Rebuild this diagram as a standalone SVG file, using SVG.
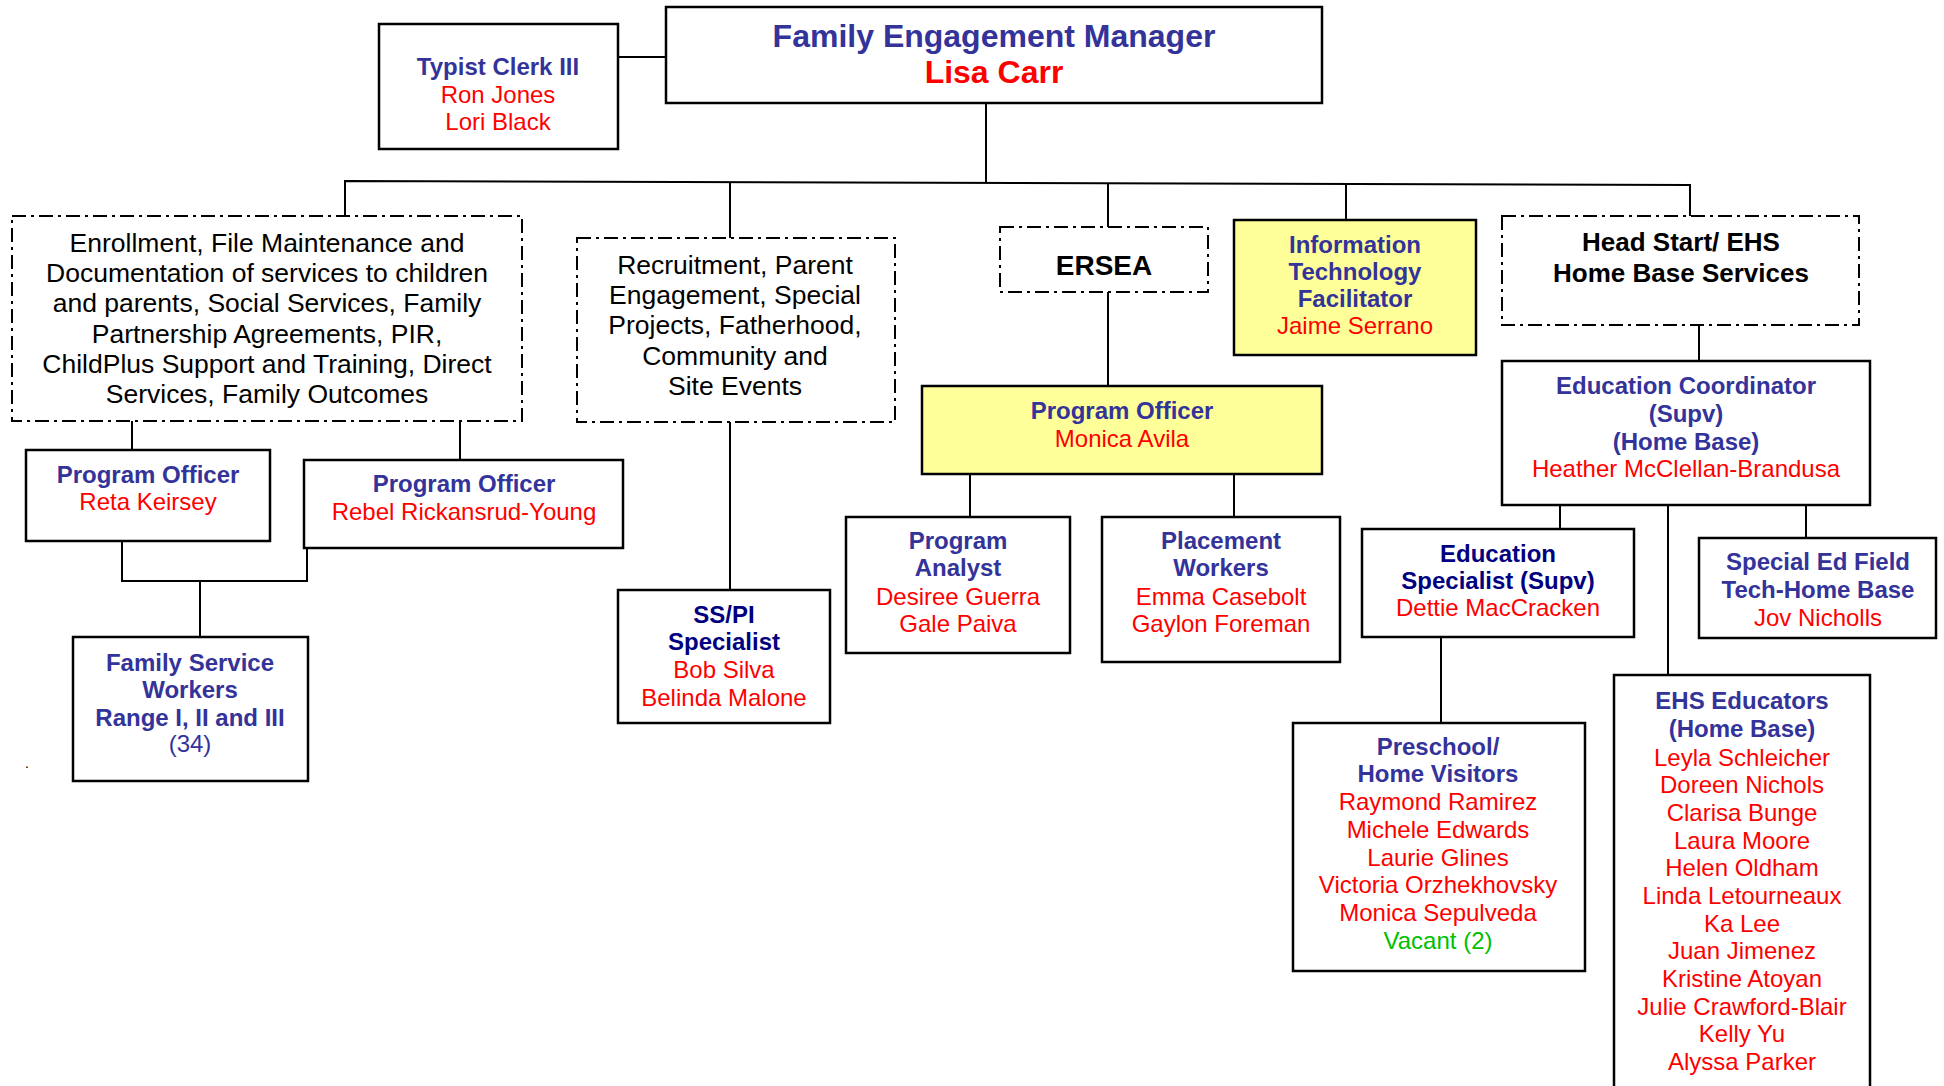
<svg xmlns="http://www.w3.org/2000/svg" width="1944" height="1086" viewBox="0 0 1944 1086">
<style>
.box{fill:#fff;stroke:#000;stroke-width:2.5}
.yel{fill:#FFFF99;stroke:#000;stroke-width:2.5}
.dash{fill:#fff;stroke:#000;stroke-width:2;stroke-dasharray:14 5 3 5}
.ln{fill:none;stroke:#000;stroke-width:2}
text{font-family:"Liberation Sans",Arial,sans-serif;text-anchor:middle;font-size:24px}
.b{font-weight:bold}
.blue{fill:#333399}
.navy{fill:#000080}
.red{fill:#FF0000}
.blk{fill:#000}
.grn{fill:#00C000}
.big{font-size:32px}
.m{font-size:26.5px}
.hb{font-size:26px}
</style>
<rect width="1944" height="1086" fill="#fff"/>
<g id="connectors">
<path class="ln" d="M618 57H666"/>
<path class="ln" d="M986 103V182"/>
<path class="ln" d="M345 216V181L1690 185V216"/>
<path class="ln" d="M730 182V238"/>
<path class="ln" d="M1108 183V227"/>
<path class="ln" d="M1346 184V220"/>
<path class="ln" d="M132 421V450"/>
<path class="ln" d="M460 421V460"/>
<path class="ln" d="M122 541V581H307V548"/>
<path class="ln" d="M200 581V637"/>
<path class="ln" d="M730 422V590"/>
<path class="ln" d="M1108 292V386"/>
<path class="ln" d="M970 474V517"/>
<path class="ln" d="M1234 474V517"/>
<path class="ln" d="M1699 325V361"/>
<path class="ln" d="M1560 505V529"/>
<path class="ln" d="M1668 505V674"/>
<path class="ln" d="M1806 505V538"/>
<path class="ln" d="M1441 637V723"/>
</g>
<g id="manager">
<rect class="box" x="666" y="7" width="656" height="96"/>
<text class="b blue big" x="994" y="47">Family Engagement Manager</text>
<text class="b red big" x="994" y="83">Lisa Carr</text>
</g>
<g id="typist">
<rect class="box" x="379" y="24" width="239" height="125"/>
<text class="b blue" x="498" y="75">Typist Clerk III</text>
<text class="red" x="498" y="103">Ron Jones</text>
<text class="red" x="498" y="130">Lori Black</text>
</g>
<g id="enrollment">
<rect class="dash" x="12" y="216" width="510" height="205"/>
<text class="blk m" x="267" y="252">Enrollment, File Maintenance and</text>
<text class="blk m" x="267" y="282">Documentation of services to children</text>
<text class="blk m" x="267" y="312">and parents, Social Services, Family</text>
<text class="blk m" x="267" y="343">Partnership Agreements, PIR,</text>
<text class="blk m" x="267" y="373">ChildPlus Support and Training, Direct</text>
<text class="blk m" x="267" y="403">Services, Family Outcomes</text>
</g>
<g id="recruitment">
<rect class="dash" x="577" y="238" width="318" height="184"/>
<text class="blk m" x="735" y="274">Recruitment, Parent</text>
<text class="blk m" x="735" y="304">Engagement, Special</text>
<text class="blk m" x="735" y="334">Projects, Fatherhood,</text>
<text class="blk m" x="735" y="365">Community and</text>
<text class="blk m" x="735" y="395">Site Events</text>
</g>
<g id="ersea">
<rect class="dash" x="1000" y="227" width="208" height="65"/>
<text class="b blk" style="font-size:28px" x="1104" y="275">ERSEA</text>
</g>
<g id="it">
<rect class="yel" x="1234" y="220" width="242" height="135"/>
<text class="b blue" x="1355" y="253">Information</text>
<text class="b blue" x="1355" y="280">Technology</text>
<text class="b blue" x="1355" y="307">Facilitator</text>
<text class="red" x="1355" y="334">Jaime Serrano</text>
</g>
<g id="headstart">
<rect class="dash" x="1502" y="216" width="357" height="109"/>
<text class="b blk hb" x="1681" y="251">Head Start/ EHS</text>
<text class="b blk hb" x="1681" y="282">Home Base Services</text>
</g>
<g id="po-reta">
<rect class="box" x="26" y="450" width="244" height="91"/>
<text class="b blue" x="148" y="483">Program Officer</text>
<text class="red" x="148" y="510">Reta Keirsey</text>
</g>
<g id="po-rebel">
<rect class="box" x="304" y="460" width="319" height="88"/>
<text class="b blue" x="464" y="492">Program Officer</text>
<text class="red" x="464" y="520">Rebel Rickansrud-Young</text>
</g>
<g id="fsw">
<rect class="box" x="73" y="637" width="235" height="144"/>
<text class="b blue" x="190" y="671">Family Service</text>
<text class="b blue" x="190" y="698">Workers</text>
<text class="b blue" x="190" y="726">Range I, II and III</text>
<text class="blue" x="190" y="752">(34)</text>
</g>
<text class="blk" style="font-size:14px" x="27" y="768">.</text>
<g id="sspi">
<rect class="box" x="618" y="590" width="212" height="133"/>
<text class="b navy" x="724" y="623">SS/PI</text>
<text class="b navy" x="724" y="650">Specialist</text>
<text class="red" x="724" y="678">Bob Silva</text>
<text class="red" x="724" y="706">Belinda Malone</text>
</g>
<g id="po-monica">
<rect class="yel" x="922" y="386" width="400" height="88"/>
<text class="b blue" x="1122" y="419">Program Officer</text>
<text class="red" x="1122" y="447">Monica Avila</text>
</g>
<g id="analyst">
<rect class="box" x="846" y="517" width="224" height="136"/>
<text class="b blue" x="958" y="549">Program</text>
<text class="b blue" x="958" y="576">Analyst</text>
<text class="red" x="958" y="605">Desiree Guerra</text>
<text class="red" x="958" y="632">Gale Paiva</text>
</g>
<g id="placement">
<rect class="box" x="1102" y="517" width="238" height="145"/>
<text class="b blue" x="1221" y="549">Placement</text>
<text class="b blue" x="1221" y="576">Workers</text>
<text class="red" x="1221" y="605">Emma Casebolt</text>
<text class="red" x="1221" y="632">Gaylon Foreman</text>
</g>
<g id="edcoord">
<rect class="box" x="1502" y="361" width="368" height="144"/>
<text class="b blue" x="1686" y="394">Education Coordinator</text>
<text class="b blue" x="1686" y="422">(Supv)</text>
<text class="b blue" x="1686" y="450">(Home Base)</text>
<text class="red" x="1686" y="477">Heather McClellan-Brandusa</text>
</g>
<g id="edspec">
<rect class="box" x="1362" y="529" width="272" height="108"/>
<text class="b navy" x="1498" y="562">Education</text>
<text class="b navy" x="1498" y="589">Specialist (Supv)</text>
<text class="red" x="1498" y="616">Dettie MacCracken</text>
</g>
<g id="specialed">
<rect class="box" x="1699" y="538" width="237" height="100"/>
<text class="b blue" x="1818" y="570">Special Ed Field</text>
<text class="b blue" x="1818" y="598">Tech-Home Base</text>
<text class="red" x="1818" y="626">Jov Nicholls</text>
</g>
<g id="preschool">
<rect class="box" x="1293" y="723" width="292" height="248"/>
<text class="b blue" x="1438" y="755">Preschool/</text>
<text class="b blue" x="1438" y="782">Home Visitors</text>
<text class="red" x="1438" y="810">Raymond Ramirez</text>
<text class="red" x="1438" y="838">Michele Edwards</text>
<text class="red" x="1438" y="866">Laurie Glines</text>
<text class="red" x="1438" y="893">Victoria Orzhekhovsky</text>
<text class="red" x="1438" y="921">Monica Sepulveda</text>
<text class="grn" x="1438" y="949">Vacant (2)</text>
</g>
<g id="ehs">
<rect class="box" x="1614" y="675" width="256" height="430"/>
<text class="b blue" x="1742" y="709">EHS Educators</text>
<text class="b blue" x="1742" y="737">(Home Base)</text>
<text class="red" x="1742" y="766">Leyla Schleicher</text>
<text class="red" x="1742" y="793">Doreen Nichols</text>
<text class="red" x="1742" y="821">Clarisa Bunge</text>
<text class="red" x="1742" y="849">Laura Moore</text>
<text class="red" x="1742" y="876">Helen Oldham</text>
<text class="red" x="1742" y="904">Linda Letourneaux</text>
<text class="red" x="1742" y="932">Ka Lee</text>
<text class="red" x="1742" y="959">Juan Jimenez</text>
<text class="red" x="1742" y="987">Kristine Atoyan</text>
<text class="red" x="1742" y="1015">Julie Crawford-Blair</text>
<text class="red" x="1742" y="1042">Kelly Yu</text>
<text class="red" x="1742" y="1070">Alyssa Parker</text>
</g>
</svg>
